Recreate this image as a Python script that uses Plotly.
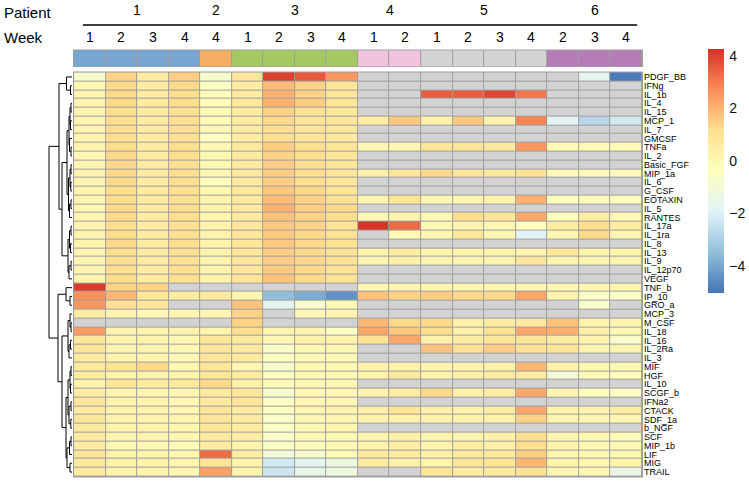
import plotly.graph_objects as go

N = None
cytokines = ["PDGF_BB", "IFNg", "IL_1b", "IL_4", "IL_15", "MCP_1", "IL_7", "GMCSF", "TNFa", "IL_2",
             "Basic_FGF", "MIP_1a", "IL_6", "G_CSF", "EOTAXIN", "IL_5", "RANTES", "IL_17a", "IL_1ra",
             "IL_8", "IL_13", "IL_9", "IL_12p70", "VEGF", "TNF_b", "IP_10", "GRO_a", "MCP_3", "M_CSF",
             "IL_18", "IL_16", "IL_2Ra", "IL_3", "MIF", "HGF", "IL_10", "SCGF_b", "IFNa2", "CTACK",
             "SDF_1a", "b_NGF", "SCF", "MIP_1b", "LIF", "MIG", "TRAIL"]
patients = [1, 1, 1, 1, 2, 3, 3, 3, 3, 4, 4, 5, 5, 5, 5, 6, 6, 6]
weeks = [1, 2, 3, 4, 4, 1, 2, 3, 4, 1, 2, 1, 2, 3, 4, 2, 3, 4]
patient_colors = ["#7AA6D2", "#F5AD64", "#A5C962", "#F1C3DD", "#D3D3D3", "#B57CB8"]

# values per cytokine (18 samples, columns in order of patients/weeks); None = not measured
PDGF_BB = [-0.78, 1.4, 0.58, 1.5, -0.78, 0.8, 4.0, 3.6, 2.55, N, N, N, N, N, N, N, -1.72, -4.94]
IFNg = [0.01, 1.3, 0.58, 1.3, -0.47, 0.58, 1.82, 1.4, 0.89, N, N, N, N, N, N, N, N, N]
IL_1b = [0.12, 1.3, 0.58, 1.2, -0.37, 0.68, 2.03, 1.4, 0.89, N, N, 3.5, 3.5, 3.9, 3.07, N, N, N]
IL_4 = [0.12, 1.3, 0.58, 1.2, -0.26, 0.68, 2.03, 1.51, 0.89, N, N, N, N, N, N, N, N, N]
IL_15 = [0.12, 1.2, 0.58, 1.1, -0.16, 0.58, 1.4, 1.1, 0.8, N, N, N, N, N, N, N, N, N]
MCP_1 = [0.12, 1.2, 0.58, 1.1, -0.16, 0.58, 1.3, 0.89, 0.8, 0.58, 1.6, 0.32, 1.6, 0.22, 2.86, -1.82, -2.76, -2.24]
IL_7 = [0.12, 1.2, 0.58, 1.1, 0.0, 0.58, 1.2, 0.89, 0.8, N, N, N, N, N, N, N, N, N]
GMCSF = [0.12, 1.2, 0.58, 1.1, -0.47, 0.58, 1.2, 0.89, 0.68, N, N, N, N, N, N, N, N, N]
TNFa = [0.12, 1.2, 0.58, 1.2, -0.05, 0.68, 1.51, 1.2, 0.89, 0.01, 0.01, 0.89, 0.89, 0.68, 2.55, -0.1, -0.1, -0.1]
IL_2 = [0.01, 1.3, 0.58, 1.2, -0.05, 0.68, 1.4, 1.2, 0.89, N, N, N, N, N, N, N, N, N]
Basic_FGF = [0.12, 1.3, 0.58, 1.2, -0.05, 0.68, 1.51, 1.2, 0.89, N, N, N, N, N, N, N, N, N]
MIP_1a = [0.12, 1.3, 0.58, 1.2, 0.0, 0.68, 1.51, 1.2, 0.89, 0.32, 0.8, 1.3, 0.8, 0.68, 1.0, -0.16, -0.16, -0.16]
IL_6 = [0.12, 1.3, 0.58, 1.2, -0.37, 0.68, 1.51, 1.2, 0.89, N, N, N, N, N, N, N, N, N]
G_CSF = [0.12, 1.2, 0.58, 1.1, -0.05, 0.68, 1.6, 1.3, 0.89, N, N, N, N, N, N, N, N, N]
EOTAXIN = [0.12, 1.2, 0.58, 1.1, 0.12, 0.68, 1.82, 1.4, 1.0, 0.12, 0.89, -0.05, 0.01, 0.22, 2.03, -0.37, -0.26, -0.37]
IL_5 = [0.01, 1.3, 0.58, 1.2, 0.22, 0.68, 2.03, 1.51, 1.3, N, N, N, N, N, N, N, N, N]
RANTES = [0.12, 1.3, 0.58, 1.2, 0.12, 0.68, 1.72, 1.4, 1.2, -0.05, 0.22, -0.05, 1.2, 0.89, 2.24, -0.26, 0.58, 0.01]
IL_17a = [0.12, 1.2, 0.58, 1.1, 0.22, 0.8, 1.6, 1.4, 1.0, 4.2, 3.3, -0.05, 0.12, 0.06, -0.37, 0.58, 1.2, 0.58]
IL_1ra = [0.12, 1.2, 0.58, 1.1, 0.22, 0.8, 1.6, 1.3, 1.0, N, -0.1, 0.01, 0.8, -0.05, -1.93, -0.05, 1.3, 0.12]
IL_8 = [0.12, 1.3, 0.58, 1.2, 0.22, 0.8, 1.6, 1.3, 1.0, N, N, N, N, N, N, N, N, N]
IL_13 = [0.12, 1.2, 0.58, 1.1, 0.22, 0.8, 1.51, 1.3, 1.0, 0.22, 0.58, 0.22, 0.22, 0.22, 0.12, 0.8, 0.22, 0.22]
IL_9 = [0.12, 1.2, 0.58, 1.1, 0.22, 0.8, 1.51, 1.3, 1.0, 0.22, 0.32, 0.22, 0.22, 0.22, 0.8, 0.22, 0.22, 0.22]
IL_12p70 = [0.12, 1.2, 0.58, 1.1, 0.22, 0.8, 1.6, 1.3, 1.0, N, N, N, N, N, N, N, N, N]
VEGF = [0.22, 1.2, 0.58, 1.1, 0.22, 0.8, 1.72, 1.3, 1.0, N, N, N, N, N, N, N, N, N]
TNF_b = [4.1, 1.4, 1.4, N, N, N, N, N, N, 0.01, 0.01, 0.01, 0.01, 0.01, 0.01, 0.01, 0.01, 0.12]
IP_10 = [2.65, 1.93, 0.8, 0.58, 0.68, 0.12, -3.5, -3.9, -4.42, 1.72, 1.4, 1.51, 1.3, 1.3, 2.24, 0.22, -0.57, -0.57]
GRO_a = [2.55, 1.1, 0.8, N, N, 1.72, -1.72, -0.78, -0.05, N, N, N, N, N, N, N, -0.68, N]
MCP_3 = [0.58, 0.12, 0.01, 0.12, 0.12, 1.4, N, 0.01, 0.12, N, N, N, N, N, N, N, N, N]
M_CSF = [N, N, N, N, N, 1.4, N, N, N, 1.93, 1.3, 1.3, 0.32, 0.58, 0.68, 1.72, 0.22, 0.12]
IL_18 = [2.44, 0.12, 0.22, 0.22, 0.22, 1.2, 0.06, 0.12, -0.47, 2.24, 1.6, 1.2, 0.32, 1.0, 2.24, 2.03, 0.32, 0.01]
IL_16 = [0.8, 0.22, 0.22, -0.05, 0.8, 0.68, 0.01, 0.32, 0.22, 1.0, 2.24, 0.32, 0.58, 0.8, 0.89, 0.58, 0.22, -0.68]
IL_2Ra = [0.89, 0.22, 0.22, 0.01, 0.8, 0.68, -0.68, 0.01, 0.01, N, N, 1.72, 1.0, 1.51, 1.0, 0.89, 0.22, 0.22]
IL_3 = [0.68, 0.22, 0.22, 0.0, 0.89, 0.68, -0.47, -0.05, -0.05, N, N, N, N, N, N, N, N, N]
MIF = [0.68, 1.0, 1.3, -0.05, 0.8, 0.01, -0.78, -0.05, -0.05, 0.32, 0.32, 0.22, 0.22, 0.32, 1.93, 0.32, 0.06, -0.05]
HGF = [0.58, 0.22, 0.22, 0.12, 0.8, 0.58, -0.47, -0.05, -0.05, 0.22, 0.68, 0.22, 0.32, 0.58, 0.58, -0.99, -0.16, -0.37]
IL_10 = [0.22, 0.89, 0.58, 0.68, 1.3, 0.32, -0.16, 0.06, 0.01, N, N, N, N, N, N, N, N, N]
SCGF_b = [0.58, 0.22, 0.22, 0.06, 0.68, 0.8, -0.78, 0.0, 0.0, 0.22, 0.58, 1.3, 0.32, 0.58, 2.24, 0.12, -0.37, -0.47]
IFNa2 = [0.8, 0.22, 0.22, 0.01, 0.68, 0.89, -0.47, 0.06, 0.06, N, N, N, N, N, N, N, N, N]
CTACK = [0.68, 0.22, 0.22, 0.01, 0.89, 0.58, -0.47, 0.06, 0.12, 0.32, 0.89, 0.32, 0.22, 0.58, 2.24, 0.22, 0.12, 0.58]
SDF_1a = [0.8, 0.22, 0.22, 0.06, 0.8, 0.58, -0.68, -0.05, 0.06, 0.22, 0.32, 0.22, 0.22, 0.32, 1.4, 0.12, 0.0, -0.05]
b_NGF = [0.68, 0.22, 0.22, 0.06, 0.8, 0.58, -0.57, -0.05, 0.06, N, N, N, N, N, N, N, N, N]
SCF = [0.68, 0.22, 0.22, 0.06, 0.68, 0.58, -0.57, -0.05, -0.05, 0.22, 0.32, 0.22, 0.22, 0.32, 1.2, 0.12, 0.0, -0.16]
MIP_1b = [0.58, 0.0, -0.05, -0.16, 0.58, 0.22, -0.57, -0.26, -0.05, 0.22, 0.58, 0.22, 0.58, 0.32, 1.2, 0.22, 0.01, 0.01]
LIF = [0.89, 0.22, 0.22, 0.06, 3.28, 0.58, -1.1, -0.78, -0.16, 0.68, 0.58, 0.32, 0.68, 0.68, 1.51, 0.12, 0.01, 0.01]
MIG = [0.68, 0.22, 0.22, 0.06, 0.89, 0.22, -2.24, -1.72, -1.3, 0.58, 0.32, 0.22, 0.8, 0.89, 1.93, 0.22, 0.06, 0.22]
TRAIL = [0.68, 0.22, 0.22, 0.06, 2.34, 0.22, -2.34, -1.51, -1.2, N, N, 0.89, 0.58, 0.68, 1.0, 0.01, 0.01, -1.4]

rows = [PDGF_BB, IFNg, IL_1b, IL_4, IL_15, MCP_1, IL_7, GMCSF, TNFa, IL_2, Basic_FGF, MIP_1a, IL_6,
        G_CSF, EOTAXIN, IL_5, RANTES, IL_17a, IL_1ra, IL_8, IL_13, IL_9, IL_12p70, VEGF, TNF_b, IP_10,
        GRO_a, MCP_3, M_CSF, IL_18, IL_16, IL_2Ra, IL_3, MIF, HGF, IL_10, SCGF_b, IFNa2, CTACK, SDF_1a,
        b_NGF, SCF, MIP_1b, LIF, MIG, TRAIL]

# row dendrogram: (merge height, left, right), leaves are row indices
T1 = (5.5, 0, (1.5, 1, 2))
T2a = (5, (3, (2, (1, 3, 4), (1.5, 5, 6)), (2.5, 7, (1, 8, 9))),
       (3.5, (2, (1, 10, 11), (1.2, 12, 13)), (2.5, (1, 14, 15), 16)))
T2b = (4, (2.5, (1, 17, 18), (1.5, 19, 20)), (3, (1, 21, 22), 23))
B1 = (6, 24, (2, 25, 26))
B2a = (4, (2, 27, (1, 28, 29)), (3, (1.5, 30, 31), 32))
B2b = (6, (4, (2, (1, 33, 34), (1.5, 35, 36)), (3, (1, 37, 38), (1.2, 39, 40))),
       (5, (2.5, (1, 41, 42), 43), (2, 44, 45)))
tree = (23, (13, T1, (10, T2a, T2b)), (14, B1, (10, B2a, B2b)))

W, H = 749, 484
ncol = len(patients)
nrow = len(cytokines)

dx, dy = [], []


def walk(node):
    if isinstance(node, int):
        return 0.0, float(node)
    h, l, r = node
    hl, yl = walk(l)
    hr, yr = walk(r)
    dx.extend([hl, h, h, hr, None])
    dy.extend([yl, yl, yr, yr, None])
    return h, (yl + yr) / 2


walk(tree)

colorscale = [[0, "#4575B4"], [1 / 6, "#91BFDB"], [2 / 6, "#E0F3F8"], [0.5, "#FFFFBF"],
              [4 / 6, "#FEE090"], [5 / 6, "#FC8D59"], [1, "#D73027"]]
zmin, zmax = -5.04, 4.26

xs = list(range(ncol))
ys = list(range(nrow))
nan_mask = [[1 if v is None else None for v in r] for r in rows]

fig = go.Figure()
fig.add_trace(go.Heatmap(z=rows, x=xs, y=ys, colorscale=colorscale, zmin=zmin, zmax=zmax,
                         xgap=1, ygap=1, hoverinfo="skip",
                         colorbar=dict(x=708 / W, xanchor="left", y=1 - 171 / H, yanchor="middle",
                                       len=244 / H, lenmode="fraction", thickness=16,
                                       thicknessmode="pixels", xpad=0, ypad=0, outlinewidth=0,
                                       tickvals=[-4, -2, 0, 2, 4],
                                       ticktext=["\u22124", "\u22122", "0", "2", "4"],
                                       ticks="outside", ticklen=3, tickcolor="rgba(0,0,0,0)",
                                       tickfont=dict(size=14, color="#111"))))
fig.add_trace(go.Heatmap(z=nan_mask, x=xs, y=ys, colorscale=[[0, "#D3D3D3"], [1, "#D3D3D3"]],
                         xgap=1, ygap=1, showscale=False, hoverinfo="skip"))
pidx = [p - 1 for p in patients]
fig.add_trace(go.Heatmap(z=[pidx], x=xs, y=[0], xaxis="x2", yaxis="y2", zmin=0, zmax=5,
                         colorscale=[[i / 5, c] for i, c in enumerate(patient_colors)],
                         xgap=1, showscale=False, hoverinfo="skip"))
fig.add_trace(go.Scatter(x=dx, y=dy, xaxis="x3", yaxis="y", mode="lines",
                         line=dict(color="black", width=1), hoverinfo="skip", showlegend=False))

ex, ey = 0.035, 0.11
xdom = [73 / W, 643 / W]
fig.update_layout(
    template="none",
    width=W, height=H, margin=dict(l=0, r=0, t=0, b=0, autoexpand=False),
    paper_bgcolor="white", plot_bgcolor="white", showlegend=False,
    font=dict(family="Liberation Sans, Arial, sans-serif", color="black"),
    xaxis=dict(domain=xdom, range=[-0.5 - ex, ncol - 0.5 + ex], showticklabels=False,
               showgrid=False, zeroline=False, showline=False, ticks="", anchor="y",
               automargin=False),
    yaxis=dict(domain=[6.6 / H, 412.4 / H], range=[nrow - 0.5 + ey, -0.5 - ey], side="right",
               tickvals=ys, ticktext=cytokines, tickfont=dict(size=9, color="black"),
               ticks="", showgrid=False, zeroline=False, showline=False, anchor="x",
               automargin=False),
    xaxis2=dict(domain=xdom, matches="x", showticklabels=False, showgrid=False, ticks="",
                zeroline=False, showline=False, anchor="y2", automargin=False),
    yaxis2=dict(domain=[(H - 67) / H, (H - 49.5) / H], range=[0.5 + 0.06, -0.5 - 0.06],
                showticklabels=False, showgrid=False, zeroline=False, showline=False, ticks="",
                anchor="x2", automargin=False),
    xaxis3=dict(domain=[0, 72 / W], range=[72, 0], showticklabels=False, showgrid=False,
                zeroline=False, showline=False, ticks="", anchor="y", automargin=False),
)

shapes = []
for xr, yr in (("x", "y"), ("x2", "y2")):
    shapes.append(dict(type="rect", xref=xr + " domain", yref=yr + " domain", x0=0, x1=1, y0=0,
                       y1=1, fillcolor="#9E9E9E", line_width=0, layer="below"))
shapes.append(dict(type="line", xref="x", yref="paper", x0=-0.22, x1=ncol - 0.65,
                   y0=(H - 25) / H, y1=(H - 25) / H, line=dict(color="black", width=1.5)))
fig.update_layout(shapes=shapes)

ann = []
for i, w in enumerate(weeks):
    ann.append(dict(x=xs[i], y=(H - 37) / H, xref="x", yref="paper", text=str(w), showarrow=False,
                    font=dict(size=14), xanchor="center", yanchor="middle"))
for p in sorted(set(patients)):
    idx = [i for i, q in enumerate(patients) if q == p]
    ann.append(dict(x=sum(idx) / len(idx), y=(H - 10) / H, xref="x", yref="paper", text=str(p),
                    showarrow=False, font=dict(size=14), xanchor="center", yanchor="middle"))
ann.append(dict(x=2 / W, y=(H - 12) / H, xref="paper", yref="paper", text="Patient",
                showarrow=False, font=dict(size=15), xanchor="left", yanchor="middle"))
ann.append(dict(x=2 / W, y=(H - 37) / H, xref="paper", yref="paper", text="Week",
                showarrow=False, font=dict(size=15), xanchor="left", yanchor="middle"))
fig.update_layout(annotations=ann)

fig.write_html("out.html", config={"displayModeBar": False},
               post_script="document.body.style.margin='0px';document.body.style.overflow='hidden';")
